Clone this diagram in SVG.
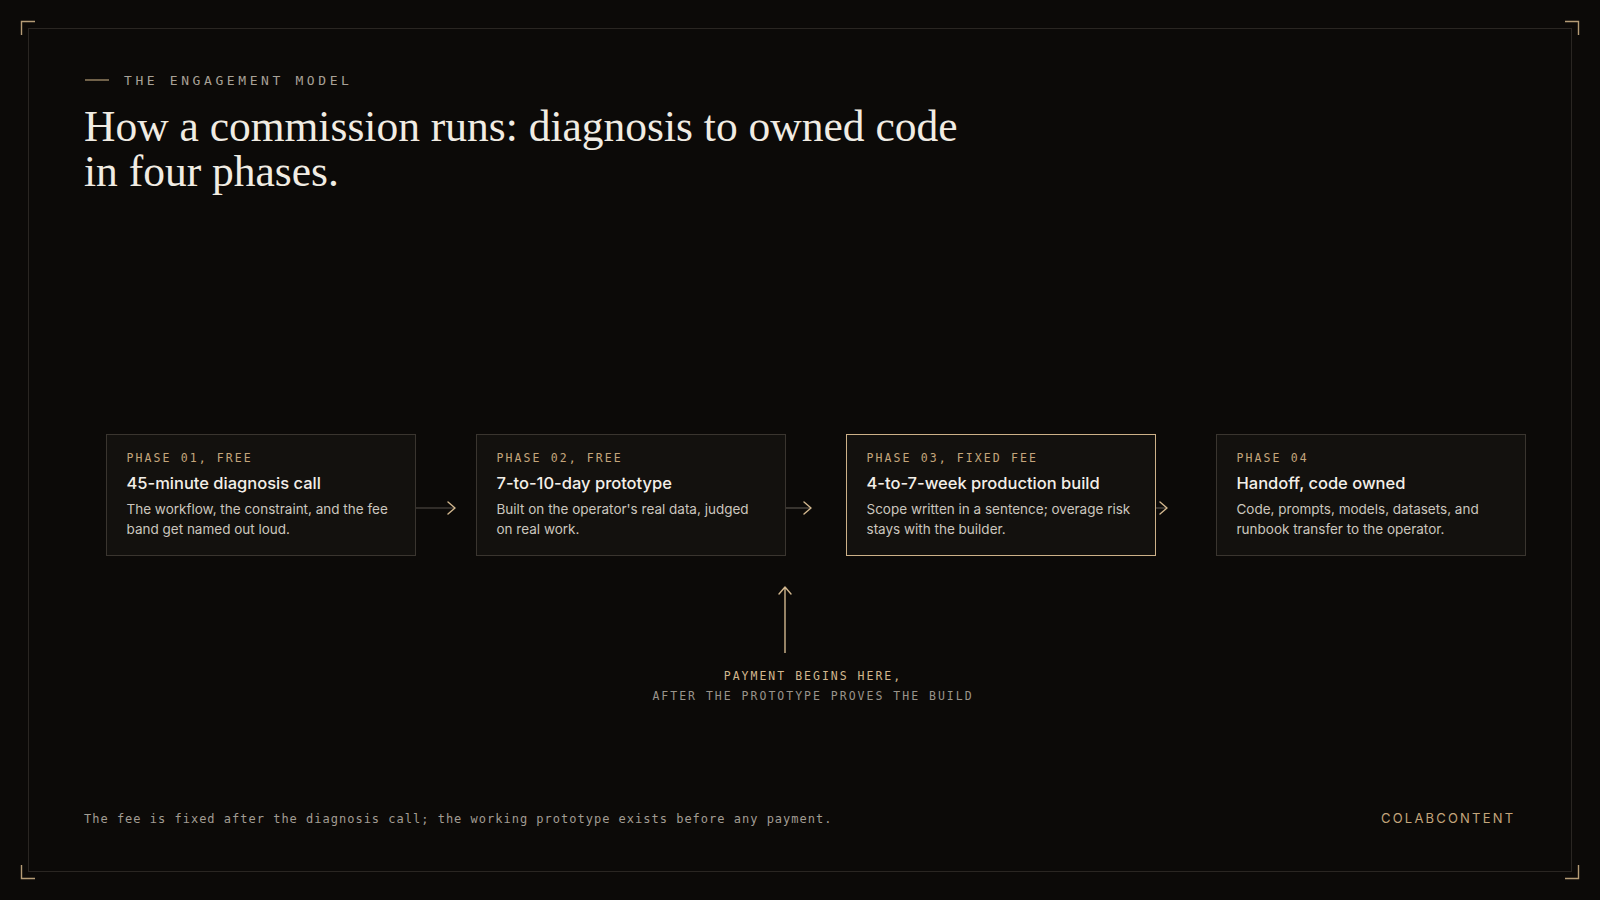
<svg xmlns="http://www.w3.org/2000/svg" width="1600" height="900" viewBox="0 0 1600 900">
<defs>
<style>
.mono{font-family:"DejaVu Sans Mono","Liberation Mono",monospace;}
.sans{font-family:Inter,"Liberation Sans",sans-serif;}
.serif{font-family:"Liberation Serif","DejaVu Serif",serif;}
.box{fill:#13110e;stroke:#3a352f;stroke-width:1;}
.box.hl{stroke:#cdb188;}
.lbl{font-size:11.5px;letter-spacing:2.1px;fill:#c4a67c;}
.ttl{font-size:16.5px;font-weight:500;fill:#f3efe8;}
.desc{font-size:13.5px;fill:#cbc6be;}
.conn{stroke:#57504a;stroke-width:1.2;fill:none;}
.head{stroke:#d2b78e;stroke-width:1.4;fill:none;stroke-linecap:round;stroke-linejoin:round;}
.corner{stroke:#b59c76;stroke-width:1.4;fill:none;}
</style>
</defs>
<rect x="0" y="0" width="1600" height="900" fill="#0c0a08"/>
<rect x="28.5" y="28.5" width="1543" height="843" fill="none" stroke="#2a2622" stroke-width="1"/>
<g id="corners">
<path class="corner" d="M21.5 35 V21.5 H35"/>
<path class="corner" d="M1565 21.5 H1578.5 V35"/>
<path class="corner" d="M21.5 865 V878.5 H35"/>
<path class="corner" d="M1565 878.5 H1578.5 V865"/>
</g>
<g id="header">
<line x1="85" y1="80" x2="109" y2="80" stroke="#b59c76" stroke-width="1.2"/>
<text class="mono" x="124" y="85" font-size="13" letter-spacing="3.6" fill="#a8a197">THE ENGAGEMENT MODEL</text>
<text class="serif" x="84" y="141" font-size="43.5" fill="#f1ece3">How a commission runs: diagnosis to owned code</text>
<text class="serif" x="84" y="186" font-size="43.5" fill="#f1ece3">in four phases.</text>
</g>
<g id="connectors">
<line class="conn" x1="416" y1="508" x2="455" y2="508"/>
<path class="head" d="M448 502 L455 508 L448 514"/>
<line class="conn" x1="786" y1="508" x2="811" y2="508"/>
<path class="head" d="M804 502 L811 508 L804 514"/>
<line class="conn" x1="1156" y1="508" x2="1167" y2="508"/>
<path class="head" d="M1160 502 L1167 508 L1160 514"/>
<line x1="785" y1="653" x2="785" y2="587" stroke="#d2b78e" stroke-width="1.4"/>
<path class="head" d="M779 594 L785 587 L791 594"/>
</g>
<g id="phase1">
<rect class="box" x="106.5" y="434.5" width="309" height="121"/>
<text class="mono lbl" x="126.5" y="462">PHASE 01, FREE</text>
<text class="sans ttl" x="126.5" y="488.5">45-minute diagnosis call</text>
<text class="sans desc" x="126.5" y="513.5">The workflow, the constraint, and the fee</text>
<text class="sans desc" x="126.5" y="533.5">band get named out loud.</text>
</g>
<g id="phase2">
<rect class="box" x="476.5" y="434.5" width="309" height="121"/>
<text class="mono lbl" x="496.5" y="462">PHASE 02, FREE</text>
<text class="sans ttl" x="496.5" y="488.5">7-to-10-day prototype</text>
<text class="sans desc" x="496.5" y="513.5">Built on the operator's real data, judged</text>
<text class="sans desc" x="496.5" y="533.5">on real work.</text>
</g>
<g id="phase3">
<rect class="box hl" x="846.5" y="434.5" width="309" height="121"/>
<text class="mono lbl" x="866.5" y="462">PHASE 03, FIXED FEE</text>
<text class="sans ttl" x="866.5" y="488.5">4-to-7-week production build</text>
<text class="sans desc" x="866.5" y="513.5">Scope written in a sentence; overage risk</text>
<text class="sans desc" x="866.5" y="533.5">stays with the builder.</text>
</g>
<g id="phase4">
<rect class="box" x="1216.5" y="434.5" width="309" height="121"/>
<text class="mono lbl" x="1236.5" y="462">PHASE 04</text>
<text class="sans ttl" x="1236.5" y="488.5">Handoff, code owned</text>
<text class="sans desc" x="1236.5" y="513.5">Code, prompts, models, datasets, and</text>
<text class="sans desc" x="1236.5" y="533.5">runbook transfer to the operator.</text>
</g>
<g id="payment-note">
<text class="mono" x="813" y="680" font-size="11.5" letter-spacing="2" fill="#d2b78e" text-anchor="middle">PAYMENT BEGINS HERE,</text>
<text class="mono" x="813" y="700" font-size="11.5" letter-spacing="2" fill="#9a948b" text-anchor="middle">AFTER THE PROTOTYPE PROVES THE BUILD</text>
</g>
<g id="footer">
<text class="mono" x="84" y="823" font-size="12" letter-spacing="1" fill="#a29c93">The fee is fixed after the diagnosis call; the working prototype exists before any payment.</text>
<text class="sans" x="1381" y="823" font-size="13" letter-spacing="2.2" fill="#c4a67c">COLABCONTENT</text>
</g>
</svg>
